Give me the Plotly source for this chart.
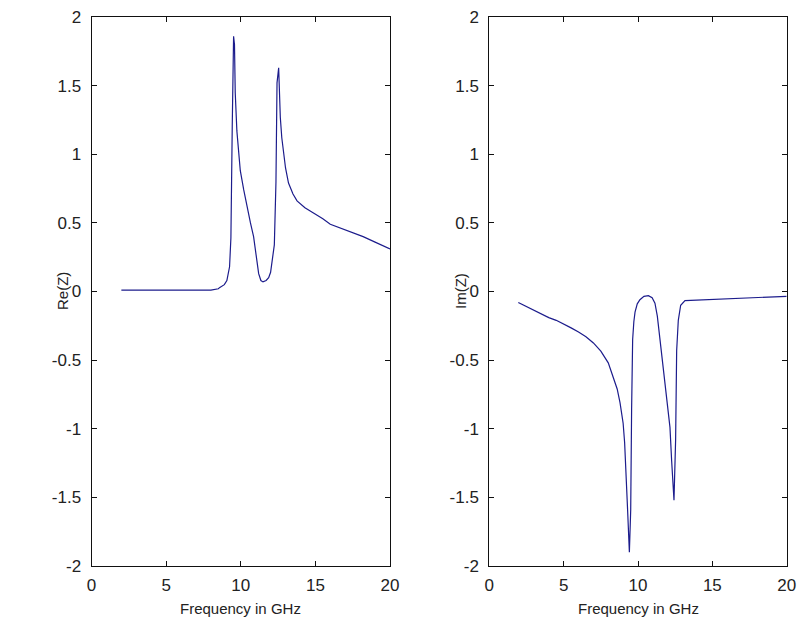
import plotly.graph_objects as go
from plotly.subplots import make_subplots

# Re(Z)
re_freq = [2.0, 4.0, 6.0, 8.0, 8.5, 8.6, 8.9, 9.07, 9.25, 9.34, 9.43, 9.52, 9.58, 9.63, 9.74, 9.97,
           10.2, 10.4, 10.65, 10.86, 11.05, 11.2, 11.35, 11.49, 11.7, 11.87, 12.0, 12.09, 12.25,
           12.36, 12.43, 12.54, 12.65, 12.75, 12.87, 13.0, 13.2, 13.5, 13.77, 14.3, 14.9, 15.5,
           16.0, 17.1, 18.2, 19.0, 20.0]
re_z = [0.01, 0.01, 0.01, 0.01, 0.02, 0.03, 0.05, 0.08, 0.18, 0.39, 1.2, 1.86, 1.80, 1.45, 1.17, 0.88,
        0.74, 0.62, 0.50, 0.40, 0.25, 0.13, 0.08, 0.07, 0.08, 0.10, 0.14, 0.20, 0.34,
        0.80, 1.52, 1.63, 1.27, 1.12, 1.0, 0.9, 0.79, 0.71, 0.66, 0.61, 0.57, 0.53,
        0.49, 0.445, 0.40, 0.36, 0.31]

# Im(Z)
im_freq = [1.95, 2.5, 3.0, 3.5, 4.0, 4.5, 5.0, 5.5, 6.0, 6.5, 7.0, 7.5, 8.0, 8.34, 8.6, 8.79, 9.0,
           9.1, 9.19, 9.3, 9.42,
           9.51, 9.57, 9.64, 9.72, 9.8, 9.95, 10.13, 10.4, 10.7, 10.95, 11.14, 11.3, 11.48,
           11.81, 12.15, 12.26, 12.42, 12.53, 12.6, 12.71, 12.87, 13.16, 15.29, 19.1, 20.0]
im_z = [-0.08, -0.11, -0.14, -0.165, -0.19, -0.21, -0.235, -0.265, -0.295, -0.33, -0.375, -0.435,
        -0.52, -0.62, -0.71, -0.81, -0.96,
        -1.1, -1.28, -1.59, -1.90,
        -1.59, -0.86, -0.35, -0.22, -0.15, -0.09, -0.06, -0.035, -0.03, -0.045, -0.085, -0.18, -0.35,
        -0.70, -0.99, -1.23, -1.52, -1.08, -0.43, -0.21, -0.10, -0.066, -0.055, -0.04, -0.035]

x_ticks = [0, 5, 10, 15, 20]
x_tick_text = ["0", "5", "10", "15", "20"]
y_ticks = [-2, -1.5, -1, -0.5, 0, 0.5, 1, 1.5, 2]
y_tick_text = ["-2", "-1.5", "-1", "-0.5", "0", "0.5", "1", "1.5", "2"]
x_title = "Frequency in GHz"
y_titles = ["Re(Z)", "Im(Z)"]

W, H = 803, 629
fig = make_subplots(rows=1, cols=2)
line = dict(color="#1c1c8c", width=1.2)
fig.add_trace(go.Scatter(x=re_freq, y=re_z, mode="lines", line=line, showlegend=False), row=1, col=1)
fig.add_trace(go.Scatter(x=im_freq, y=im_z, mode="lines", line=line, showlegend=False), row=1, col=2)

tfont = dict(family="Liberation Sans, Arial, sans-serif", size=17, color="#222222")
font = dict(family="Liberation Sans, Arial, sans-serif", size=15, color="#222222")
common_x = dict(range=[0, 20], tickvals=x_ticks, ticktext=x_tick_text, ticks="inside", ticklen=5,
                tickcolor="#111", showline=True, linecolor="#111", linewidth=1, mirror="ticks",
                showgrid=False, zeroline=False, tickfont=tfont, ticklabelstandoff=4,
                automargin=False)
common_y = dict(range=[-2, 2], tickvals=y_ticks, ticktext=y_tick_text, ticks="inside", ticklen=5,
                tickcolor="#111", showline=True, linecolor="#111", linewidth=1, mirror="ticks",
                showgrid=False, zeroline=False, tickfont=tfont, ticklabelstandoff=6,
                automargin=False)

y0, y1 = 1 - 566 / H, 1 - 17 / H
lx = [91.5 / W, 390 / W]
rx = [489.3 / W, 786.7 / W]
fig.update_layout(
    width=W, height=H, margin=dict(l=0, r=0, t=0, b=0, autoexpand=False),
    paper_bgcolor="white", plot_bgcolor="white",
    xaxis=dict(domain=lx, **common_x),
    xaxis2=dict(domain=rx, **common_x),
    yaxis=dict(domain=[y0, y1], **common_y),
    yaxis2=dict(domain=[y0, y1], **common_y),
)
ann = []
for dom in (lx, rx):
    ann.append(dict(text=x_title, x=(dom[0] + dom[1]) / 2, y=1 - 608 / H, xref="paper", yref="paper",
                    showarrow=False, font=font, xanchor="center", yanchor="middle"))
for title, px in zip(y_titles, (62, 460)):
    ann.append(dict(text=title, x=px / W, y=1 - 291 / H, xref="paper", yref="paper", textangle=-90,
                    showarrow=False, font=font, xanchor="center", yanchor="middle"))
fig.update_layout(annotations=ann)
fig.write_html("out.html")
